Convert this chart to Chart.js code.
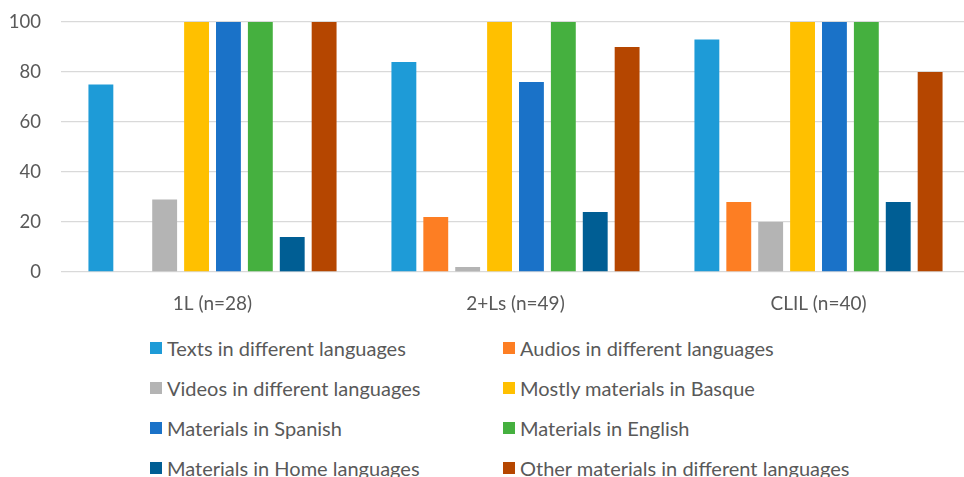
<!DOCTYPE html>
<html>
<head>
<meta charset="utf-8">
<script src="https://cdn.jsdelivr.net/npm/chart.js@4/dist/chart.umd.min.js"></script>
<style>
  html,body{margin:0;padding:0;background:#fff;}
  body{width:964px;height:477px;overflow:hidden;position:relative;font-family:Lato,"Open Sans",sans-serif;}
  /* shifted up: chart.js adds the y tick padding above the top tick; runs a little past the right edge */
  #wrap{position:absolute;left:0;top:-9px;width:970px;height:323px;}
  #legend{position:absolute;left:150px;top:328px;width:800px;display:grid;
          grid-template-columns:353px 440px;row-gap:0;}
  .li{display:flex;align-items:center;height:40px;font-size:20px;color:#595959;white-space:nowrap;}
  .sw{width:12px;height:12px;margin-right:5px;flex:none;}
</style>
</head>
<body>
<div id="wrap"><canvas id="ch"></canvas></div>
<div id="legend"></div>
<script>
// groups on the x axis
const groups = ['1L (n=28)', '2+Ls (n=49)', 'CLIL (n=40)'];
const yTicks = [0, 20, 40, 60, 80, 100];

// one array per material type, values per group (%)
const texts   = [75, 84, 93];
const audios  = [0, 22, 28];
const videos  = [29, 2, 20];
const basque  = [100, 100, 100];
const spanish = [100, 76, 100];
const english = [100, 100, 100];
const home    = [14, 24, 28];
const other   = [100, 90, 80];

const seriesNames = [
  'Texts in different languages', 'Audios in different languages',
  'Videos in different languages', 'Mostly materials in Basque',
  'Materials in Spanish', 'Materials in English',
  'Materials in Home languages', 'Other materials in different languages'
];
const seriesData = [texts, audios, videos, basque, spanish, english, home, other];
const seriesColors = ['#1E9BD7','#FD7E23','#B4B4B4','#FFC000','#1A72C8','#45B03F','#005E94','#B54600'];

const datasets = seriesNames.map((n,i)=>({
  label:n, data:seriesData[i], backgroundColor:seriesColors[i],
  borderWidth:0, categoryPercentage:0.842, barPercentage:0.78
}));

const chart = new Chart(document.getElementById('ch').getContext('2d'), {
  type:'bar',
  data:{labels:groups, datasets},
  options:{
    responsive:true, maintainAspectRatio:false, animation:false,
    layout:{padding:{top:2,right:0,left:9,bottom:0}},
    plugins:{legend:{display:false}, tooltip:{enabled:false}},
    scales:{
      x:{grid:{display:false}, border:{display:false},
         afterFit:ax=>{ax.height=42;},
         ticks:{color:'#595959', font:{family:'Lato', size:19}, padding:12}},
      y:{min:0, max:100, afterBuildTicks:ax=>{ax.ticks=yTicks.map(v=>({value:v}));},
         afterFit:ax=>{ax.width=52;},
         grid:{color:'#D9D9D9', lineWidth:1.3, drawTicks:false},
         border:{display:false},
         ticks:{color:'#595959', font:{family:'Lato', size:18.5}, padding:20}}
    }
  }
});

// two-column legend underneath
const lg = document.getElementById('legend');
seriesNames.forEach((n,i)=>{
  const d = document.createElement('div'); d.className='li';
  d.innerHTML = `<span class="sw" style="background:${seriesColors[i]}"></span>${n}`;
  lg.appendChild(d);
});
</script>
</body>
</html>
